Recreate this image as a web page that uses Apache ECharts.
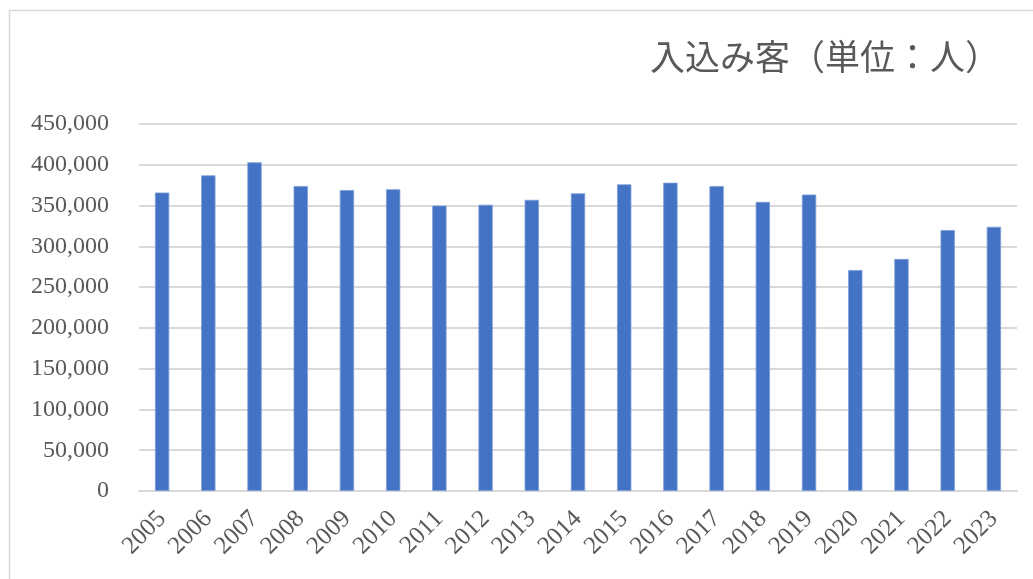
<!DOCTYPE html>
<html>
<head>
<meta charset="utf-8">
<script src="https://cdn.jsdelivr.net/npm/echarts@6/dist/echarts.min.js"></script>
<style>
html,body{margin:0;padding:0;background:#fff;}
#main{width:1033px;height:579px;}
</style>
</head>
<body>
<div id="main"></div>
<script>
var years = ['2005','2006','2007','2008','2009','2010','2011','2012','2013','2014','2015','2016','2017','2018','2019','2020','2021','2022','2023'];
var visitors = [366000,387000,403000,374000,369000,370000,350000,351000,357000,365000,376000,378000,374000,354500,363500,271000,284500,320000,324000];
var yTicks = [0,50000,100000,150000,200000,250000,300000,350000,400000,450000];
var unitLabel = '入込み客（単位：人）';

var chart = echarts.init(document.getElementById('main'), null, {renderer:'canvas'});
chart.setOption({
  animation: false,
  backgroundColor: '#ffffff',
  graphic: [
    {type:'rect', left:7, top:8, shape:{width:1200, height:800},
     style:{fill:'none', stroke:'#D9D9D9', lineWidth:1.5}, silent:true},
    {type:'text', right:33, top:39,
     style:{text:unitLabel, fill:'#595959', font:'35px "Noto Sans CJK JP"'}}
  ],
  grid: {left:139, right:16, top:124, bottom:88, containLabel:false},
  xAxis: {
    type:'category', data: years,
    axisLine:{lineStyle:{color:'#D9D9D9', width:2}},
    axisTick:{show:false},
    axisLabel:{rotate:45, color:'#595959', fontFamily:'Liberation Serif', fontSize:25, margin:24, interval:0}
  },
  yAxis: {
    type:'value', min:yTicks[0], max:yTicks[yTicks.length-1], interval:50000,
    axisLine:{show:false}, axisTick:{show:false},
    splitLine:{lineStyle:{color:'#D9D9D9', width:2}},
    axisLabel:{color:'#595959', fontFamily:'Liberation Serif', fontSize:24, margin:30,
      formatter:function(v){return v.toLocaleString('en-US');}}
  },
  series: [{
    type:'bar', data: visitors, barWidth:'31%',
    itemStyle:{color:'#4472C4', borderColor:'#7E9ED6', borderWidth:0.8}
  }]
});
</script>
</body>
</html>
